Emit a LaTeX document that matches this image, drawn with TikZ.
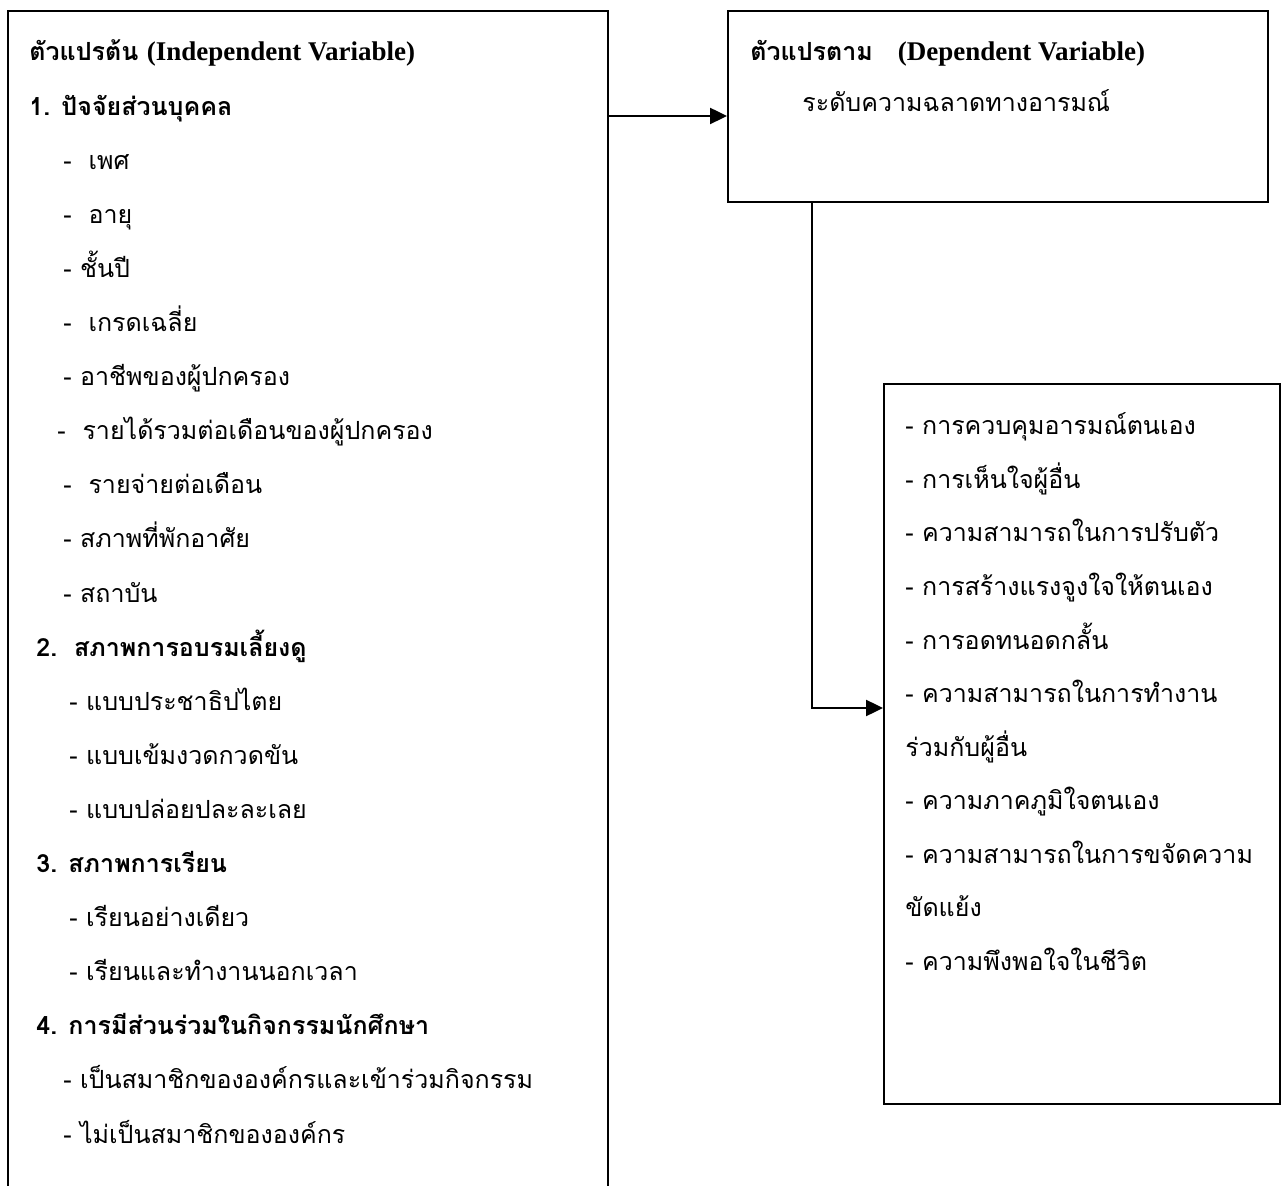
\documentclass[tikz,border=0pt]{standalone}
\usepackage{fontspec}
\setmainfont{Liberation Serif}
\newfontfamily\thaifont[Script=Thai]{Loma}
\usetikzlibrary{arrows.meta}

\newcommand\engpart[1]{{\rmfamily\fontsize{13.5pt}{16pt}\selectfont #1}}

\tikzset{
  box/.style={draw, line width=1pt, inner sep=0pt},
  item/.style={anchor=base west, inner sep=0pt, font=\thaifont\fontsize{12.5pt}{15pt}\selectfont},
  head/.style={item, font=\thaifont\bfseries\fontsize{12.5pt}{15pt}\selectfont},
  arr/.style={line width=1.2pt, -{Triangle[length=8.5pt,width=8pt]}}
}

\begin{document}
\begin{tikzpicture}[x=0.5pt, y=-0.5pt]
  \useasboundingbox (0,0) rectangle (1283,1186);
  \clip (0,0) rectangle (1283,1186);
  \node[box, minimum width=300pt, minimum height=620pt] (indep) at (308,631) {};
  \node[box, minimum width=270pt, minimum height=95.5pt] (dep) at (998,106.5) {};
  \node[box, minimum width=198pt, minimum height=360pt] (dims) at (1082,744) {};

  \foreach \i/\s/\x/\t in {
    0/head/29/{ตัวแปรต้น \engpart{(Independent Variable)}},
    1/head/29/{1. ปัจจัยส่วนบุคคล},
    2/item/63/{-~~เพศ},
    3/item/63/{-~~อายุ},
    4/item/63/{- ชั้นปี},
    5/item/63/{-~~เกรดเฉลี่ย},
    6/item/63/{- อาชีพของผู้ปกครอง},
    7/item/57/{-~~รายได้รวมต่อเดือนของผู้ปกครอง},
    8/item/63/{-~~รายจ่ายต่อเดือน},
    9/item/63/{- สภาพที่พักอาศัย},
    10/item/63/{- สถาบัน},
    11/head/36/{2.~~สภาพการอบรมเลี้ยงดู},
    12/item/69/{- แบบประชาธิปไตย},
    13/item/69/{- แบบเข้มงวดกวดขัน},
    14/item/69/{- แบบปล่อยปละละเลย},
    15/head/36/{3. สภาพการเรียน},
    16/item/69/{- เรียนอย่างเดียว},
    17/item/69/{- เรียนและทำงานนอกเวลา},
    18/head/36/{4. การมีส่วนร่วมในกิจกรรมนักศึกษา},
    19/item/63/{- เป็นสมาชิกขององค์กรและเข้าร่วมกิจกรรม},
    20/item/63/{- ไม่เป็นสมาชิกขององค์กร}
  }
    \node[\s] (ind\i) at (\x, {61+54.1*\i}) {\t};

  \node[head] (deptitle) at (750,61) {ตัวแปรตาม\quad\engpart{(Dependent Variable)}};
  \node[item] (depname) at (802,112) {ระดับความฉลาดทางอารมณ์};

  \foreach \i/\t in {
    0/{- การควบคุมอารมณ์ตนเอง},
    1/{- การเห็นใจผู้อื่น},
    2/{- ความสามารถในการปรับตัว},
    3/{- การสร้างแรงจูงใจให้ตนเอง},
    4/{- การอดทนอดกลั้น},
    5/{- ความสามารถในการทำงาน},
    6/{ร่วมกับผู้อื่น},
    7/{- ความภาคภูมิใจตนเอง},
    8/{- ความสามารถในการขจัดความ},
    9/{ขัดแย้ง},
    10/{- ความพึงพอใจในชีวิต}
  }
    \node[item] (dim\i) at (905, {435+53.5*\i}) {\t};

  \coordinate (link) at (0,116);
  \coordinate (bend) at (812,708);
  \draw[arr] (indep.east |- link) -- (dep.west |- link);
  \draw[arr] (dep.south -| bend) |- (dims.west |- bend);
\end{tikzpicture}
\end{document}
